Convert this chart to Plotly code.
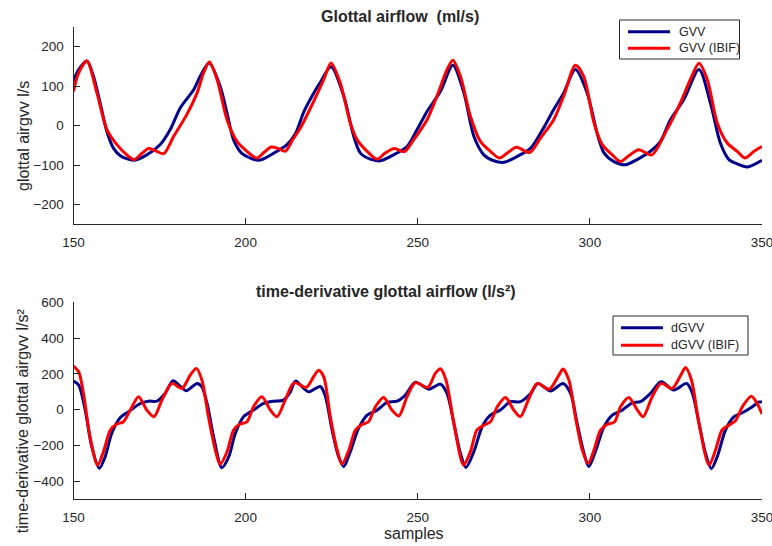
import plotly.graph_objects as go

# ---- glottal airflow (ml/s) ----
gvv_x = [150, 151.5, 153.9, 155.8, 157.8, 159.7, 161.6, 163.6, 167.4, 171.3, 175.2, 178.1,
         181, 184.9, 186.8, 189.4, 192.6, 194.6, 196.5, 198.9, 203.8, 208.1, 212, 214.5,
         216.9, 219.8, 221.7, 224.8, 228.5, 231.4, 233.3, 236.2, 239.2, 243, 246.9, 249.8,
         252.7, 256.6, 260.2, 263.4, 266.3, 269.2, 272.1, 275, 278.9, 282.8, 286.6, 289.5,
         292.4, 295.8, 299.2, 302.1, 304.1, 307, 310.4, 313.7, 317.6, 320.5, 323.4, 327.3,
         331.7, 335, 337.9, 340.4, 342.8, 345.7, 350]
gvv_y = [113, 142, 164, 125, 55, -15, -57, -76, -88, -74, -48, -10,
         45, 91, 125, 159, 100, 32, -36, -70, -88, -70, -48, -20,
         35, 83, 110, 149, 75, -27, -69, -85, -89, -74, -53, -10,
         36, 87, 153, 83, -27, -74, -89, -93, -78, -57, -5, 41,
         83, 142, 83, -19, -69, -91, -99, -86, -65, -40, 15, 66,
         142, 58, -44, -86, -97, -105, -88]

gvv_ibif_x = [150, 151.5, 153.9, 156.8, 159.7, 162.6, 165.5, 167.6, 169.9, 171.8, 173.7, 176.2,
              179.1, 182.9, 185.9, 187.8, 189.5, 191.7, 194.6, 197.5, 200.4, 203.3, 205.3, 207.4,
              209.5, 211.5, 213.7, 215.9, 219.8, 222.7, 224.8, 227.5, 230.4, 232.4, 235.3, 238.2,
              240.6, 243.2, 246.1, 248.8, 252.7, 255.6, 258.5, 260.2, 262.4, 265.3, 268.2, 271.1,
              273.7, 276.2, 278.7, 282.5, 285.7, 289.5, 292.4, 295.8, 298.2, 301.2, 303.6, 306.5,
              308.9, 311.5, 314.2, 318, 322.4, 326.3, 329.2, 331.7, 334.1, 337, 339.9, 342.8,
              345, 347.7, 350]
gvv_ibif_y = [87, 134, 164, 83, -10, -48, -74, -86, -70, -58, -63, -71,
              -27, 28, 83, 134, 161, 117, 15, -40, -65, -82, -68, -54,
              -58, -65, -35, -6, 62, 117, 159, 108, 7, -36, -65, -85,
              -69, -58, -66, -36, 15, 75, 142, 166, 125, 24, -40, -65,
              -82, -68, -55, -68, -31, 15, 75, 153, 125, 7, -48, -74,
              -91, -75, -61, -74, -10, 58, 117, 158, 117, 7, -44, -65,
              -82, -65, -53]

# ---- time-derivative glottal airflow (l/s²) ----
dgvv_x = [150, 151.5, 153.4, 155.3, 157.5, 159.2, 161.1, 163.6, 166, 169.4, 171.8, 174.2,
          176.6, 178.9, 181, 182.8, 185.9, 187.3, 188.8, 190.7, 193.1, 195.1, 197, 199.4,
          202.3, 205.2, 208.1, 211, 213, 214.5, 216.9, 218.3, 221.7, 223.2, 225.1, 227,
          228.5, 230.4, 232.8, 235.3, 238.2, 241.1, 244, 246.4, 249.3, 253.2, 256.6, 258.5,
          260.5, 262.4, 264, 266.3, 268.7, 271.1, 274, 276.9, 279.8, 282.8, 284.9, 288.6,
          292.2, 294.4, 296.3, 298.3, 299.7, 301.6, 304.1, 306.5, 309.4, 312.3, 314.7, 317.6,
          320.7, 324.4, 328.1, 329.8, 331.7, 333.6, 335.3, 337, 339.4, 341.9, 344.3, 347.2,
          349.1, 350]
dgvv_y = [160, 138, -2, -206, -327, -262, -132, -43, -11, 35, 48, 48,
          91, 162, 132, 106, 147, 128, 35, -151, -324, -262, -132, -39,
          -2, 35, 48, 54, 100, 160, 119, 100, 130, 73, -113, -262,
          -318, -234, -104, -30, -2, 41, 48, 82, 154, 115, 143, 91,
          -76, -244, -322, -234, -95, -30, -2, 45, 45, 91, 147, 105,
          147, 91, -76, -244, -318, -234, -95, -30, -2, 39, 45, 91,
          156, 110, 147, 91, -76, -244, -329, -262, -113, -39, -17, 17,
          43, 43]

dgvv_ibif_x = [150, 151.5, 152.9, 154.8, 157, 158.7, 160.7, 162.6, 164.5, 167, 168.9, 171.3,
               173.4, 175.7, 178.6, 181.5, 183.9, 185.7, 187.3, 189.2, 191.2, 192.6, 194.6, 196.5,
               198.4, 200.4, 202.3, 204.7, 207.2, 209.1, 211.5, 214.1, 217.6, 219.8, 221.2, 222.7,
               224.6, 226.6, 228, 230, 231.9, 233.8, 235.7, 237.7, 240.1, 242.5, 244.5, 246.9,
               249.3, 252.9, 255.1, 256.6, 258.2, 260.5, 263.3, 265.3, 267.2, 269.2, 271.1, 273.1,
               275.5, 277.9, 279.8, 282.3, 284.7, 288.2, 291, 292.2, 293.9, 295.8, 297.8, 299.5,
               301.2, 303.1, 305, 307.2, 308.9, 311.3, 313.8, 315.5, 318.1, 320.7, 323.9, 326.4,
               327.8, 329.5, 331.7, 334.6, 336.5, 338.4, 340.4, 342.3, 344.3, 346.9, 348.6, 350]
dgvv_ibif_y = [244, 212, 91, -151, -309, -234, -113, -80, -67, 17, 73, -2,
               -39, 54, 147, 119, 193, 231, 166, -39, -225, -305, -234, -113,
               -80, -67, 17, 73, -2, -39, 54, 151, 125, 186, 221, 184,
               -39, -225, -303, -225, -113, -82, -67, 17, 69, -2, -35, 73,
               151, 125, 203, 229, 166, -76, -309, -234, -113, -86, -67, 17,
               69, -2, -39, 63, 147, 115, 193, 227, 166, -39, -225, -300,
               -225, -113, -82, -67, 17, 69, -2, -39, 73, 147, 119, 193,
               236, 166, -76, -309, -225, -113, -86, -61, 17, 76, 35, -24]

x_ticks = [150, 200, 250, 300, 350]
top_ticks = [-200, -100, 0, 100, 200]
bottom_ticks = [-400, -200, 0, 200, 400, 600]

W, H = 772, 546
FONT = "Liberation Sans, Arial, Helvetica, sans-serif"
INK = "#262626"
BLUE = "#00008B"
RED = "#FF0000"


def px(x):
    return x / W


def py(y):
    return 1 - y / H


series = [
    ("GVV", gvv_x, gvv_y, BLUE, "x", "y"),
    ("GVV (IBIF)", gvv_ibif_x, gvv_ibif_y, RED, "x", "y"),
    ("dGVV", dgvv_x, dgvv_y, BLUE, "x2", "y2"),
    ("dGVV (IBIF)", dgvv_ibif_x, dgvv_ibif_y, RED, "x2", "y2"),
]

fig = go.Figure()
for name, xs, ys, color, xa, ya in series:
    fig.add_trace(go.Scatter(x=xs, y=ys, name=name, mode="lines", showlegend=False,
                             line=dict(color=color, shape="spline", smoothing=0.8, width=3),
                             xaxis=xa, yaxis=ya))

axis_common = dict(showline=True, linecolor=INK, linewidth=1, mirror=False,
                   ticks="inside", ticklen=6, tickcolor=INK, tickwidth=1,
                   showgrid=False, zeroline=False, automargin=False,
                   ticklabeloverflow="allow",
                   tickfont=dict(family=FONT, size=13.5, color=INK))
x_dom = [px(73.5), px(762)]

fig.update_layout(
    width=W, height=H,
    margin=dict(l=0, r=0, t=0, b=0, autoexpand=False),
    paper_bgcolor="white", plot_bgcolor="white",
    showlegend=False,
    xaxis=dict(domain=x_dom, range=[150, 350], tickvals=x_ticks, anchor="y",
               ticklabelstandoff=5, **axis_common),
    yaxis=dict(domain=[py(224.3), py(27)], range=[-250, 250], tickvals=top_ticks, anchor="x",
               ticklabelstandoff=6, **axis_common),
    xaxis2=dict(domain=x_dom, range=[150, 350], tickvals=x_ticks, anchor="y2",
                ticklabelstandoff=5, **axis_common),
    yaxis2=dict(domain=[py(499.3), py(302.3)], range=[-500, 600], tickvals=bottom_ticks, anchor="x2",
                ticklabelstandoff=6, **axis_common),
)

# Boxed legends, one per panel: (box left, top, right, bottom, line x0, line x1, text x, row ys)
legend_boxes = [
    (619.5, 20, 739.5, 59, 628, 670, 676.5, [31.7, 48.3], series[0:2]),
    (613, 316, 748, 355, 621, 663, 669, [327.7, 345.3], series[2:4]),
]
for bx0, by0, bx1, by1, lx0, lx1, tx, rows, entries in legend_boxes:
    fig.add_shape(type="rect", xref="paper", yref="paper",
                  x0=px(bx0), x1=px(bx1), y0=py(by1), y1=py(by0),
                  line=dict(color=INK, width=1), fillcolor="white", layer="above")
    for ry, (name, _, _, color, _, _) in zip(rows, entries):
        fig.add_shape(type="line", xref="paper", yref="paper",
                      x0=px(lx0), x1=px(lx1), y0=py(ry), y1=py(ry),
                      line=dict(color=color, width=3), layer="above")
        fig.add_annotation(xref="paper", yref="paper", x=px(tx), y=py(ry),
                           xanchor="left", yanchor="middle", showarrow=False, text=name,
                           font=dict(family=FONT, size=12.5, color=INK))

annotations = [
    dict(text="<b>Glottal airflow \u00a0(ml/s)</b>", x=px(400.3), y=py(16), font_size=16),
    dict(text="<b>time-derivative glottal airflow (l/s²)</b>", x=px(386.3), y=py(291.5), font_size=16),
    dict(text="glottal airgvv l/s", x=px(23), y=py(136), font_size=16, textangle=-90),
    dict(text="time-derivative glottal airgvv l/s²", x=px(22.5), y=py(420.7), font_size=16, textangle=-90),
    dict(text="samples", x=px(413.7), y=py(533), font_size=16),
]
for a in annotations:
    size = a.pop("font_size")
    fig.add_annotation(xref="paper", yref="paper", xanchor="center", yanchor="middle",
                       showarrow=False, font=dict(family=FONT, size=size, color=INK), **a)

fig.write_html("out.html")
